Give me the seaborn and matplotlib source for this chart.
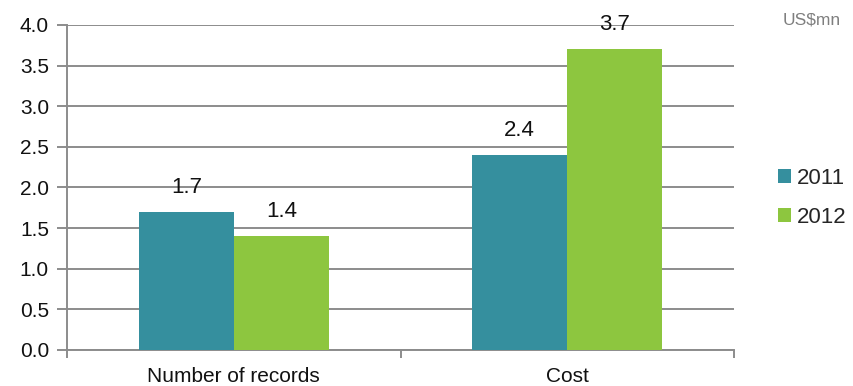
import matplotlib
matplotlib.use("Agg")
import matplotlib.pyplot as plt
from matplotlib.patches import Patch
import seaborn as sns
import pandas as pd

categories = ["Number of records", "Cost"]
years = ["2011", "2012"]
values_2011 = [1.7, 2.4]
values_2012 = [1.4, 3.7]
y_ticks = [0.0, 0.5, 1.0, 1.5, 2.0, 2.5, 3.0, 3.5, 4.0]
unit_label = "US$mn"

colors = {"2011": "#358F9E", "2012": "#8DC63F"}

df = pd.DataFrame({
    "category": categories * 2,
    "year": [years[0]] * 2 + [years[1]] * 2,
    "value": values_2011 + values_2012,
})

sns.set_theme(style="white")
plt.rcParams["font.family"] = ["Liberation Sans", "DejaVu Sans"]

fig = plt.figure(figsize=(8.54, 3.86), dpi=100)
ax = fig.add_axes([0.0785, 0.0933, 0.781, 0.842])

sns.barplot(data=df, x="category", y="value", hue="year", order=categories,
            hue_order=years, palette=colors, width=0.57, saturation=1,
            edgecolor="none", linewidth=0, ax=ax, legend=False, zorder=3)

grid_color = "#8C8C8C"
ax.set_ylim(0, 4.0)
ax.set_xlim(-0.5, 1.5)
ax.set_yticks(y_ticks)
ax.set_yticklabels([f"{t:.1f}" for t in y_ticks], fontsize=15, color="#111111")
ax.yaxis.grid(True, color=grid_color, linewidth=1.4, zorder=0)
ax.set_axisbelow(True)
ax.tick_params(axis="y", length=7, width=1.4, color=grid_color, pad=6, left=True)

ax.set_xticks([0, 1])
ax.set_xticklabels(categories, fontsize=15, color="#111111")
ax.tick_params(axis="x", which="major", length=0, pad=12)
ax.set_xticks([-0.5, 0.5, 1.5], minor=True)
ax.tick_params(axis="x", which="minor", length=6, width=1.4, color=grid_color, bottom=True)

for side in ["top", "right"]:
    ax.spines[side].set_visible(False)
for side in ["left", "bottom"]:
    ax.spines[side].set_color(grid_color)
    ax.spines[side].set_linewidth(1.4)

ax.set_xlabel("")
ax.set_ylabel("")

for container in ax.containers:
    ax.bar_label(container, fmt="%.1f", fontsize=16, padding=10, color="#111111")

handles = [Patch(facecolor=colors[y], edgecolor="none", label=y) for y in years]
fig.legend(handles=handles, loc="center left", bbox_to_anchor=(0.8876, 0.487),
           frameon=False, fontsize=16, handlelength=0.6, handleheight=0.6,
           handletextpad=0.25, labelspacing=0.8)

fig.text(0.917, 0.948, unit_label, fontsize=12.5, color="#7F7F7F", ha="left", va="center")

fig.savefig("out.png", dpi=100)
